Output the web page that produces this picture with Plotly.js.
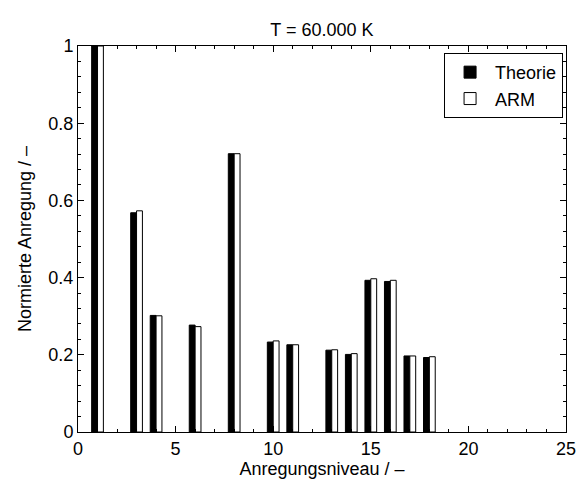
<!DOCTYPE html>
<html><head><meta charset="utf-8">
<script src="https://cdn.plot.ly/plotly-3.0.1.min.js"></script>
<style>html,body{margin:0;padding:0;background:#fff;}#chart{width:581px;height:479px;}</style>
</head><body><div id="chart"></div>
<script>
var levels = [1, 3, 4, 6, 8, 10, 11, 13, 14, 15, 16, 17, 18];
var theorie = [1.0, 0.568, 0.302, 0.277, 0.721, 0.233, 0.226, 0.212, 0.201, 0.393, 0.390, 0.197, 0.193];
var arm     = [1.0, 0.573, 0.301, 0.273, 0.721, 0.236, 0.226, 0.213, 0.203, 0.397, 0.393, 0.197, 0.195];
var seriesNames = ['Theorie', 'ARM'];
var titleText = 'T = 60.000 K';
var xTitle = 'Anregungsniveau / –';
var yTitle = 'Normierte Anregung / –';

var fam = 'Liberation Sans, Arial, sans-serif';
var font = {family: fam, size: 18, color: '#000'};
var traces = [
  {type: 'bar', x: levels, y: theorie, name: seriesNames[0],
   marker: {color: '#000', line: {color: '#000', width: 1}}},
  {type: 'bar', x: levels, y: arm, name: seriesNames[1],
   marker: {color: '#fff', line: {color: '#000', width: 1}}}
];
var axisCommon = {
  showgrid: false, zeroline: false, showline: true, linecolor: '#000', linewidth: 1,
  mirror: 'ticks', ticks: 'inside', ticklen: 6, tickcolor: '#000', tickwidth: 1,
  tickfont: font
};
var layout = {
  width: 581, height: 479,
  margin: {l: 78, r: 15, t: 46, b: 47},
  paper_bgcolor: '#fff', plot_bgcolor: '#fff',
  font: font,
  title: {text: titleText, x: 0.554, xanchor: 'center', y: 0.938, yanchor: 'middle', font: font},
  barmode: 'group', bargap: 0.4, bargroupgap: 0,
  showlegend: true,
  legend: {x: 0.994, xanchor: 'right', y: 0.982, yanchor: 'top', bordercolor: '#000', borderwidth: 1,
           bgcolor: '#fff', font: font, traceorder: 'normal', itemwidth: 40},
  xaxis: Object.assign({}, axisCommon, {range: [0, 25], dtick: 5, tick0: 0,
    minor: {dtick: 1, ticks: 'inside', ticklen: 3, tickcolor: '#000'},
    title: {text: xTitle, font: font, standoff: 0}}),
  yaxis: Object.assign({}, axisCommon, {range: [0, 1], dtick: 0.2, tick0: 0,
    minor: {dtick: 0.04, ticks: 'inside', ticklen: 3, tickcolor: '#000'},
    title: {text: yTitle, font: font, standoff: 12}})
};
Plotly.newPlot('chart', traces, layout, {displayModeBar: false, staticPlot: true});
</script></body></html>
